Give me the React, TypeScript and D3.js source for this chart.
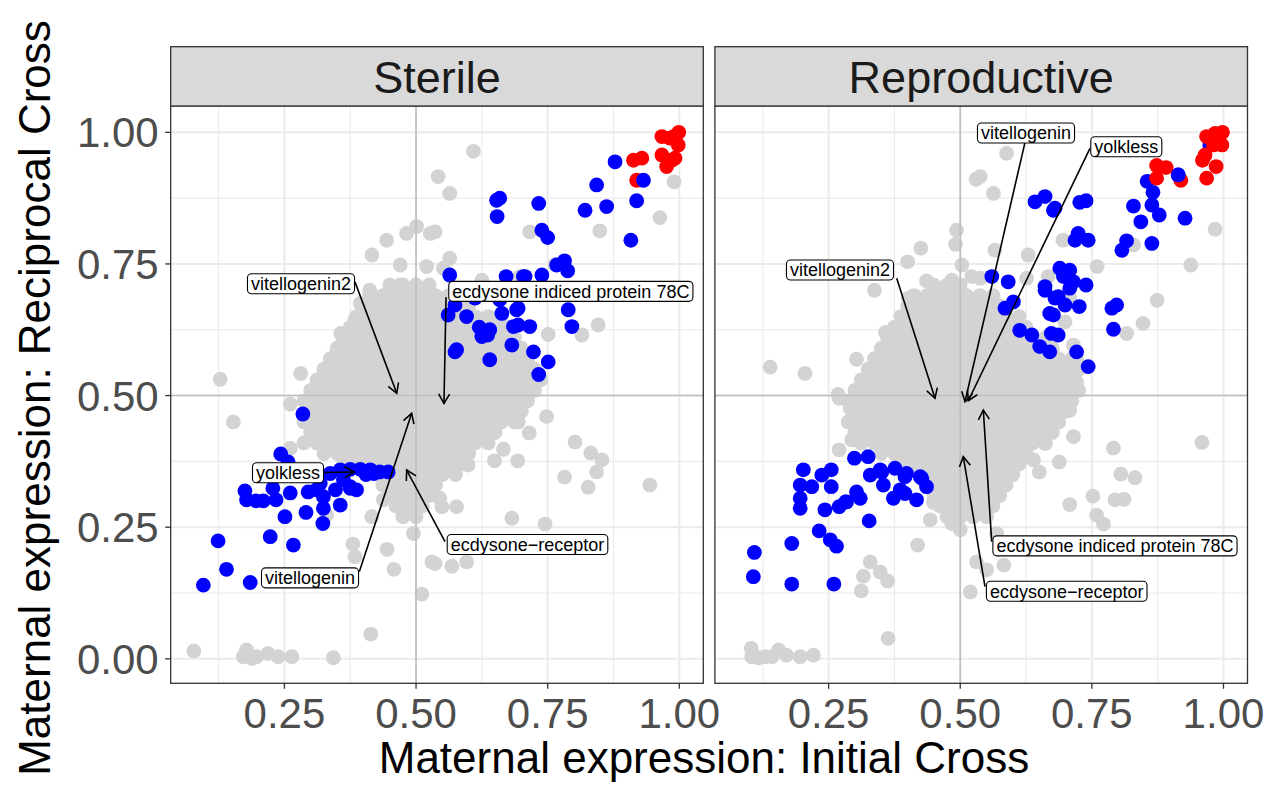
import * as d3 from "d3";

type Pt = [number, number];
type Row = [number, number[]];
type Lab = { text: string; at: Pt; from: Pt; tip: Pt };

// ---- Sterile panel ----
// dense central cloud, one row of points per y value
const sterileCloud: Row[] = [
  [0.71, [0.45, 0.475, 0.5, 0.525]],
  [0.69, [0.412, 0.437, 0.462, 0.487, 0.512, 0.537, 0.562]],
  [0.67, [0.4, 0.425, 0.45, 0.475, 0.5, 0.525, 0.55, 0.575, 0.6]],
  [0.65, [0.387, 0.412, 0.437, 0.462, 0.487, 0.512, 0.537, 0.562, 0.587, 0.612, 0.637, 0.662]],
  [0.63, [0.375, 0.4, 0.425, 0.45, 0.475, 0.5, 0.525, 0.55, 0.575, 0.6, 0.625, 0.65, 0.675]],
  [0.61, [0.362, 0.387, 0.412, 0.437, 0.462, 0.487, 0.512, 0.537, 0.562, 0.587, 0.612, 0.637, 0.662, 0.687]],
  [0.59, [0.35, 0.375, 0.4, 0.425, 0.45, 0.475, 0.5, 0.525, 0.55, 0.575, 0.6, 0.625, 0.65, 0.675, 0.7]],
  [0.57, [0.337, 0.362, 0.387, 0.412, 0.437, 0.462, 0.487, 0.512, 0.537, 0.562, 0.587, 0.612, 0.637, 0.662, 0.687, 0.712]],
  [0.55, [0.325, 0.35, 0.375, 0.4, 0.425, 0.45, 0.475, 0.5, 0.525, 0.55, 0.575, 0.6, 0.625, 0.65, 0.675, 0.7, 0.725]],
  [0.53, [0.312, 0.337, 0.362, 0.387, 0.412, 0.437, 0.462, 0.487, 0.512, 0.537, 0.562, 0.587, 0.612, 0.637, 0.662, 0.687, 0.712, 0.737]],
  [0.51, [0.3, 0.325, 0.35, 0.375, 0.4, 0.425, 0.45, 0.475, 0.5, 0.525, 0.55, 0.575, 0.6, 0.625, 0.65, 0.675, 0.7, 0.725]],
  [0.49, [0.287, 0.312, 0.337, 0.362, 0.387, 0.412, 0.437, 0.462, 0.487, 0.512, 0.537, 0.562, 0.587, 0.612, 0.637, 0.662, 0.687, 0.712]],
  [0.47, [0.3, 0.325, 0.35, 0.375, 0.4, 0.425, 0.45, 0.475, 0.5, 0.525, 0.55, 0.575, 0.6, 0.625, 0.65, 0.675, 0.7]],
  [0.45, [0.287, 0.312, 0.337, 0.362, 0.387, 0.412, 0.437, 0.462, 0.487, 0.512, 0.537, 0.562, 0.587, 0.612, 0.637, 0.662, 0.687]],
  [0.43, [0.3, 0.325, 0.35, 0.375, 0.4, 0.425, 0.45, 0.475, 0.5, 0.525, 0.55, 0.575, 0.6, 0.625, 0.65]],
  [0.41, [0.287, 0.312, 0.337, 0.362, 0.387, 0.412, 0.437, 0.462, 0.487, 0.512, 0.537, 0.562, 0.587, 0.612, 0.637]],
  [0.39, [0.325, 0.35, 0.375, 0.4, 0.425, 0.45, 0.475, 0.5, 0.525, 0.55, 0.575, 0.6]],
  [0.37, [0.362, 0.387, 0.412, 0.437, 0.462, 0.487, 0.512, 0.537, 0.562, 0.587]],
  [0.35, [0.45, 0.475, 0.5, 0.525, 0.55, 0.575]],
  [0.33, [0.437, 0.462, 0.487, 0.512, 0.537]],
  [0.31, [0.45, 0.475, 0.5, 0.525]],
  [0.29, [0.462, 0.487, 0.512]],
  [0.27, [0.475, 0.5]],
];

const sterileGrey: Pt[] = [
  [0.482, 0.808], [0.501, 0.821], [0.527, 0.808], [0.444, 0.795], [0.416, 0.767], [0.47, 0.748],
  [0.52, 0.745], [0.564, 0.761], [0.47, 0.71], [0.412, 0.7], [0.542, 0.916], [0.609, 0.964],
  [0.564, 0.884], [0.536, 0.811], [0.552, 0.742], [0.716, 0.811], [0.849, 0.813], [0.963, 0.838],
  [0.99, 0.906], [0.846, 0.634], [0.815, 0.615], [0.751, 0.616], [0.625, 0.719], [0.697, 0.726],
  [0.764, 0.749], [0.394, 0.675], [0.384, 0.644], [0.357, 0.618], [0.384, 0.609], [0.35, 0.585],
  [0.128, 0.531], [0.281, 0.542], [0.321, 0.506], [0.361, 0.548], [0.153, 0.45], [0.261, 0.484],
  [0.261, 0.4], [0.38, 0.218], [0.384, 0.194], [0.445, 0.208], [0.458, 0.17], [0.511, 0.123],
  [0.53, 0.184], [0.414, 0.047], [0.078, 0.015], [0.178, 0.017], [0.172, 0.004], [0.197, 0.004],
  [0.219, 0.01], [0.238, 0.004], [0.264, 0.004], [0.343, 0.002], [0.188, 0.001], [0.416, 0.27],
  [0.476, 0.289], [0.495, 0.238], [0.438, 0.302], [0.33, 0.273], [0.748, 0.46], [0.802, 0.412],
  [0.832, 0.391], [0.853, 0.378], [0.843, 0.355], [0.782, 0.345], [0.827, 0.326], [0.944, 0.33],
  [0.693, 0.376], [0.649, 0.376], [0.666, 0.398], [0.715, 0.429], [0.694, 0.45], [0.682, 0.267],
  [0.745, 0.256], [0.577, 0.289], [0.549, 0.289], [0.568, 0.176], [0.596, 0.184], [0.536, 0.181],
  [0.571, 0.355], [0.599, 0.368], [0.545, 0.305],
];

const sterileBlue: Pt[] = [
  [0.878, 0.944], [0.843, 0.9], [0.919, 0.87], [0.821, 0.852], [0.862, 0.859], [0.908, 0.795],
  [0.653, 0.871], [0.659, 0.875], [0.654, 0.84], [0.733, 0.865], [0.739, 0.814], [0.75, 0.8],
  [0.782, 0.756], [0.788, 0.737], [0.767, 0.748], [0.564, 0.729], [0.671, 0.726], [0.739, 0.729],
  [0.704, 0.726], [0.789, 0.663], [0.796, 0.631], [0.751, 0.564], [0.733, 0.54], [0.628, 0.621],
  [0.62, 0.63], [0.636, 0.615], [0.625, 0.612], [0.64, 0.625], [0.694, 0.666], [0.694, 0.634],
  [0.716, 0.631], [0.663, 0.656], [0.663, 0.697], [0.612, 0.685], [0.574, 0.672], [0.723, 0.583],
  [0.682, 0.596], [0.574, 0.583], [0.707, 0.726], [0.577, 0.587], [0.64, 0.568], [0.659, 0.682],
  [0.596, 0.65], [0.685, 0.631], [0.691, 0.663], [0.561, 0.653],
  [0.285, 0.465], [0.243, 0.389], [0.257, 0.374], [0.175, 0.319], [0.178, 0.302], [0.196, 0.3],
  [0.21, 0.3], [0.228, 0.324], [0.234, 0.302], [0.261, 0.315], [0.251, 0.27], [0.291, 0.278],
  [0.295, 0.317], [0.311, 0.321], [0.324, 0.308], [0.324, 0.286], [0.323, 0.257], [0.356, 0.292],
  [0.347, 0.321], [0.375, 0.324], [0.387, 0.321], [0.124, 0.224], [0.223, 0.232], [0.267, 0.216],
  [0.14, 0.17], [0.096, 0.14], [0.185, 0.145], [0.337, 0.352], [0.356, 0.359], [0.375, 0.36],
  [0.394, 0.36], [0.413, 0.359], [0.431, 0.355], [0.447, 0.355], [0.375, 0.327], [0.362, 0.34],
  [0.318, 0.333], [0.405, 0.35], [0.42, 0.352],
];

const sterileRed: Pt[] = [
  [0.967, 0.992], [0.982, 0.989], [0.999, 1.0], [0.998, 0.976], [0.989, 0.992], [0.967, 0.957],
  [0.986, 0.947], [0.976, 0.935], [0.992, 0.951], [0.913, 0.947], [0.929, 0.951], [0.919, 0.909],
];

// blue point that sits on top of a red one
const sterileBlueTop: Pt[] = [[0.932, 0.909]];

const sterileLabels: Lab[] = [
  { text: "vitellogenin2", at: [0.2815, 0.7124], from: [0.384, 0.716], tip: [0.4633, 0.5043] },
  { text: "ecdysone indiced protein 78C", at: [0.794, 0.698], from: [0.557, 0.687], tip: [0.553, 0.485] },
  { text: "yolkless", at: [0.2568, 0.3533], from: [0.3238, 0.3538], tip: [0.3827, 0.3548] },
  { text: "vitellogenin", at: [0.2986, 0.1538], from: [0.3922, 0.1654], tip: [0.4917, 0.4663] },
  { text: "ecdysone\u2212receptor", at: [0.7117, 0.2171], from: [0.555, 0.2224], tip: [0.4822, 0.3586] },
];

// ---- Reproductive panel ----
const reproCloud: Row[] = [
  [0.71, [0.45, 0.475, 0.5]],
  [0.69, [0.412, 0.437, 0.462, 0.487, 0.512, 0.537, 0.562]],
  [0.67, [0.4, 0.425, 0.45, 0.475, 0.5, 0.525, 0.55, 0.575]],
  [0.65, [0.387, 0.412, 0.437, 0.462, 0.487, 0.512, 0.537, 0.562, 0.587, 0.612]],
  [0.63, [0.375, 0.4, 0.425, 0.45, 0.475, 0.5, 0.525, 0.55, 0.575, 0.6, 0.625]],
  [0.61, [0.362, 0.387, 0.412, 0.437, 0.462, 0.487, 0.512, 0.537, 0.562, 0.587, 0.612, 0.637, 0.662]],
  [0.59, [0.35, 0.375, 0.4, 0.425, 0.45, 0.475, 0.5, 0.525, 0.55, 0.575, 0.6, 0.625, 0.65, 0.675]],
  [0.57, [0.337, 0.362, 0.387, 0.412, 0.437, 0.462, 0.487, 0.512, 0.537, 0.562, 0.587, 0.612, 0.637, 0.662, 0.687, 0.712]],
  [0.55, [0.325, 0.35, 0.375, 0.4, 0.425, 0.45, 0.475, 0.5, 0.525, 0.55, 0.575, 0.6, 0.625, 0.65, 0.675, 0.7, 0.725]],
  [0.53, [0.312, 0.337, 0.362, 0.387, 0.412, 0.437, 0.462, 0.487, 0.512, 0.537, 0.562, 0.587, 0.612, 0.637, 0.662, 0.687, 0.712]],
  [0.51, [0.3, 0.325, 0.35, 0.375, 0.4, 0.425, 0.45, 0.475, 0.5, 0.525, 0.55, 0.575, 0.6, 0.625, 0.65, 0.675, 0.7, 0.725]],
  [0.49, [0.287, 0.312, 0.337, 0.362, 0.387, 0.412, 0.437, 0.462, 0.487, 0.512, 0.537, 0.562, 0.587, 0.612, 0.637, 0.662, 0.687, 0.712]],
  [0.47, [0.3, 0.325, 0.35, 0.375, 0.4, 0.425, 0.45, 0.475, 0.5, 0.525, 0.55, 0.575, 0.6, 0.625, 0.65, 0.675, 0.7]],
  [0.45, [0.287, 0.312, 0.337, 0.362, 0.387, 0.412, 0.437, 0.462, 0.487, 0.512, 0.537, 0.562, 0.587, 0.612, 0.637, 0.662, 0.687]],
  [0.43, [0.3, 0.325, 0.35, 0.375, 0.4, 0.425, 0.45, 0.475, 0.5, 0.525, 0.55, 0.575, 0.6, 0.625, 0.65, 0.675]],
  [0.41, [0.312, 0.337, 0.362, 0.387, 0.412, 0.437, 0.462, 0.487, 0.512, 0.537, 0.562, 0.587, 0.612, 0.637, 0.662]],
  [0.39, [0.35, 0.375, 0.4, 0.425, 0.45, 0.475, 0.5, 0.525, 0.55, 0.575, 0.6, 0.625]],
  [0.37, [0.387, 0.412, 0.437, 0.462, 0.487, 0.512, 0.537, 0.562, 0.587, 0.612]],
  [0.35, [0.425, 0.45, 0.475, 0.5, 0.525, 0.55, 0.575, 0.6]],
  [0.33, [0.437, 0.462, 0.487, 0.512, 0.537, 0.562, 0.587]],
  [0.31, [0.45, 0.475, 0.5, 0.525, 0.55, 0.575]],
  [0.29, [0.462, 0.487, 0.512, 0.537, 0.562]],
  [0.27, [0.475, 0.5, 0.525, 0.55]],
];

const reproGrey: Pt[] = [
  [0.588, 0.96], [0.563, 0.884], [0.538, 0.916], [0.984, 0.816], [0.938, 0.748], [0.874, 0.681],
  [0.847, 0.637], [0.816, 0.618], [0.829, 0.786], [0.76, 0.745], [0.695, 0.795], [0.566, 0.776],
  [0.629, 0.767], [0.667, 0.726], [0.626, 0.723], [0.538, 0.723], [0.708, 0.685], [0.699, 0.64],
  [0.715, 0.596], [0.721, 0.571], [0.721, 0.526], [0.53, 0.911], [0.493, 0.814], [0.491, 0.787],
  [0.503, 0.748], [0.425, 0.78], [0.4, 0.754], [0.436, 0.718], [0.484, 0.719], [0.522, 0.726],
  [0.337, 0.7], [0.401, 0.685], [0.358, 0.62], [0.386, 0.602], [0.351, 0.583], [0.303, 0.569],
  [0.205, 0.542], [0.139, 0.554], [0.268, 0.502], [0.791, 0.4], [0.959, 0.411], [0.805, 0.351],
  [0.832, 0.344], [0.752, 0.309], [0.794, 0.302], [0.811, 0.303], [0.708, 0.293], [0.759, 0.273],
  [0.772, 0.256], [0.688, 0.374], [0.65, 0.355], [0.708, 0.472], [0.715, 0.422], [0.583, 0.178],
  [0.55, 0.169], [0.569, 0.238], [0.661, 0.409], [0.639, 0.378], [0.27, 0.495], [0.291, 0.476],
  [0.303, 0.454], [0.294, 0.416], [0.27, 0.397], [0.449, 0.297], [0.443, 0.264], [0.484, 0.257],
  [0.5, 0.245], [0.419, 0.216], [0.329, 0.184], [0.316, 0.157], [0.348, 0.165], [0.362, 0.148],
  [0.312, 0.129], [0.363, 0.039], [0.531, 0.184], [0.519, 0.127], [0.103, 0.02], [0.104, 0.004],
  [0.129, 0.004], [0.155, 0.017], [0.17, 0.007], [0.196, 0.004], [0.221, 0.007], [0.117, 0.002],
  [0.142, 0.004],
];

const reproBlue: Pt[] = [
  [0.974, 0.976], [0.914, 0.919], [0.855, 0.907], [0.866, 0.886], [0.829, 0.86], [0.864, 0.862],
  [0.878, 0.843], [0.843, 0.83], [0.927, 0.837], [0.816, 0.794], [0.807, 0.776], [0.864, 0.789],
  [0.642, 0.868], [0.661, 0.878], [0.68, 0.856], [0.677, 0.852], [0.727, 0.867], [0.739, 0.87],
  [0.724, 0.808], [0.718, 0.795], [0.743, 0.795], [0.689, 0.742], [0.708, 0.738], [0.696, 0.726],
  [0.56, 0.726], [0.591, 0.716], [0.661, 0.707], [0.708, 0.704], [0.739, 0.71], [0.68, 0.685],
  [0.699, 0.672], [0.726, 0.669], [0.585, 0.666], [0.601, 0.678], [0.677, 0.653], [0.673, 0.618],
  [0.686, 0.615], [0.613, 0.624], [0.636, 0.615], [0.651, 0.593], [0.67, 0.583], [0.721, 0.583],
  [0.743, 0.555], [0.788, 0.666], [0.797, 0.672], [0.791, 0.626], [0.715, 0.716], [0.661, 0.7],
  [0.686, 0.688], [0.67, 0.656],
  [0.202, 0.359], [0.196, 0.33], [0.196, 0.305], [0.196, 0.286], [0.218, 0.327], [0.237, 0.349],
  [0.255, 0.359], [0.255, 0.327], [0.243, 0.283], [0.27, 0.289], [0.282, 0.298], [0.232, 0.243],
  [0.253, 0.226], [0.265, 0.214], [0.18, 0.219], [0.109, 0.202], [0.107, 0.156], [0.18, 0.142],
  [0.26, 0.142], [0.299, 0.381], [0.325, 0.384], [0.303, 0.317], [0.31, 0.305], [0.327, 0.262],
  [0.329, 0.349], [0.351, 0.355], [0.354, 0.33], [0.376, 0.362], [0.373, 0.305], [0.395, 0.346],
  [0.395, 0.314], [0.417, 0.302], [0.427, 0.343], [0.436, 0.327], [0.398, 0.352], [0.424, 0.346],
  [0.386, 0.321], [0.284, 0.298], [0.348, 0.359],
];

const reproRed: Pt[] = [
  [0.968, 0.992], [0.984, 0.998], [0.998, 1.0], [0.997, 0.976], [0.981, 0.976], [0.965, 0.957],
  [0.96, 0.947], [0.986, 0.935], [0.968, 0.913], [0.873, 0.937], [0.891, 0.933], [0.873, 0.913],
  [0.919, 0.909],
];

const reproBlueTop: Pt[] = [[0.914, 0.919]];

const reproLabels: Lab[] = [
  { text: "vitellogenin2", at: [0.2716, 0.7385], from: [0.3793, 0.7227], tip: [0.452, 0.4948] },
  { text: "vitellogenin", at: [0.6249, 0.9987], from: [0.623, 0.981], tip: [0.509, 0.4883] },
  { text: "yolkless", at: [0.8154, 0.9726], from: [0.7464, 0.9696], tip: [0.5153, 0.4902] },
  { text: "ecdysone indiced protein 78C", at: [0.7939, 0.2146], from: [0.5597, 0.2224], tip: [0.5438, 0.4726] },
  { text: "ecdysone\u2212receptor", at: [0.7022, 0.1284], from: [0.547, 0.1369], tip: [0.5058, 0.3839] },
];

const panelNames = ["Sterile", "Reproductive"];
const xTicks = [0.25, 0.5, 0.75, 1.0];
const yTicks = [0, 0.25, 0.5, 0.75, 1.0];
const minorBreaks = [0.125, 0.375, 0.625, 0.875];

const FONT = "'Liberation Sans', Arial, Helvetica, sans-serif";
const X_DOMAIN = [0.034, 1.0456];
const Y_DOMAIN = [-0.0465, 1.05];
const PANEL_X: [number, number][] = [[170.7, 703.3], [714.9, 1247.5]];
const TOP = 106;
const BOTTOM = 683.3;
const STRIP_TOP = 46.7;
const R = 7.4;
const LABEL_SIZE = 18;

let ctx: CanvasRenderingContext2D | null = null;
function textWidth(s: string, size: number) {
  if (!ctx) ctx = document.createElement("canvas").getContext("2d");
  if (!ctx) return s.length * size * 0.5;
  ctx.font = `${size}px 'Liberation Sans', Arial, sans-serif`;
  return ctx.measureText(s).width;
}

type PanelProps = {
  idx: number;
  cloud: Row[];
  grey: Pt[];
  blue: Pt[];
  red: Pt[];
  blueTop: Pt[];
  labels: Lab[];
};

function Panel({ idx, cloud, grey, blue, red, blueTop, labels }: PanelProps) {
  const [x0, x1] = PANEL_X[idx];
  const x = d3.scaleLinear().domain(X_DOMAIN).range([x0, x1]);
  const y = d3.scaleLinear().domain(Y_DOMAIN).range([BOTTOM, TOP]);

  const greyPts: Pt[] = cloud.flatMap(([yy, xs]) => xs.map(xx => [xx, yy] as Pt)).concat(grey);
  const dots = (pts: Pt[], fill: string, key: string) =>
    pts.map((d, i) => <circle key={key + i} cx={x(d[0])} cy={y(d[1])} r={R} fill={fill} />);

  return (
    <g>
      <rect x={x0} y={TOP} width={x1 - x0} height={BOTTOM - TOP} fill="#fff" />
      {/* grid */}
      {minorBreaks.map(v => (
        <g key={"mn" + v}>
          <line x1={x(v)} x2={x(v)} y1={TOP} y2={BOTTOM} stroke="#EBEBEB" strokeWidth={1.1} />
          <line x1={x0} x2={x1} y1={y(v)} y2={y(v)} stroke="#EBEBEB" strokeWidth={1.1} />
        </g>
      ))}
      {xTicks.map(v => (
        <line key={"gx" + v} x1={x(v)} x2={x(v)} y1={TOP} y2={BOTTOM} stroke="#EBEBEB" strokeWidth={2} />
      ))}
      {yTicks.map(v => (
        <line key={"gy" + v} x1={x0} x2={x1} y1={y(v)} y2={y(v)} stroke="#EBEBEB" strokeWidth={2} />
      ))}
      {/* points */}
      {dots(greyPts, "#D3D3D3", "g")}
      {dots(blue, "#0000FF", "b")}
      {dots(red, "#FF0000", "r")}
      {dots(blueTop, "#0000FF", "bt")}
      {/* reference lines */}
      <line x1={x(0.5)} x2={x(0.5)} y1={TOP} y2={BOTTOM} stroke="#BEBEBE" strokeWidth={1.6} />
      <line x1={x0} x2={x1} y1={y(0.5)} y2={y(0.5)} stroke="#BEBEBE" strokeWidth={1.6} />
      {/* labels */}
      {labels.map(l => {
        const sx = x(l.from[0]), sy = y(l.from[1]);
        const tx = x(l.tip[0]), ty = y(l.tip[1]);
        const a = Math.atan2(ty - sy, tx - sx);
        const L = 11, sp = Math.PI / 6;
        const h1 = [tx - L * Math.cos(a - sp), ty - L * Math.sin(a - sp)];
        const h2 = [tx - L * Math.cos(a + sp), ty - L * Math.sin(a + sp)];
        const w = textWidth(l.text, LABEL_SIZE) + 7;
        const cx = x(l.at[0]), cy = y(l.at[1]);
        return (
          <g key={l.text}>
            <line x1={sx} y1={sy} x2={tx} y2={ty} stroke="#000" strokeWidth={1.6} />
            <path d={`M${h1[0]},${h1[1]}L${tx},${ty}L${h2[0]},${h2[1]}`} fill="none" stroke="#000" strokeWidth={1.6} />
            <rect x={cx - w / 2} y={cy - 10} width={w} height={20} rx={4} fill="#fff" stroke="#000" strokeWidth={1.1} />
            <text x={cx} y={cy} dy="0.36em" textAnchor="middle" fontSize={LABEL_SIZE} fontFamily={FONT} fill="#000">
              {l.text}
            </text>
          </g>
        );
      })}
      {/* border */}
      <rect x={x0} y={TOP} width={x1 - x0} height={BOTTOM - TOP} fill="none" stroke="#333" strokeWidth={1.3} />
      {/* strip */}
      <rect x={x0} y={STRIP_TOP} width={x1 - x0} height={TOP - STRIP_TOP} fill="#D9D9D9" stroke="#333" strokeWidth={1.3} />
      <text x={(x0 + x1) / 2} y={(STRIP_TOP + TOP) / 2} dy="0.36em" textAnchor="middle" fontSize={45} fontFamily={FONT} fill="#1A1A1A">
        {panelNames[idx]}
      </text>
      {/* x axis */}
      {xTicks.map(v => (
        <g key={"xt" + v}>
          <line x1={x(v)} x2={x(v)} y1={BOTTOM} y2={BOTTOM + 5.5} stroke="#333" strokeWidth={1.3} />
          <text x={x(v)} y={728} textAnchor="middle" fontSize={42} fontFamily={FONT} fill="#4D4D4D">
            {d3.format(".2f")(v)}
          </text>
        </g>
      ))}
      {/* y axis on first panel only */}
      {idx === 0 &&
        yTicks.map(v => (
          <g key={"yt" + v}>
            <line x1={x0 - 5.5} x2={x0} y1={y(v)} y2={y(v)} stroke="#333" strokeWidth={1.3} />
            <text x={x0 - 12} y={y(v)} dy="0.36em" textAnchor="end" fontSize={42} fontFamily={FONT} fill="#4D4D4D">
              {d3.format(".2f")(v)}
            </text>
          </g>
        ))}
    </g>
  );
}

export default function App() {
  return (
    <svg
      width={1273}
      height={785}
      style={{ position: "absolute", left: 0, top: 0, background: "#fff" }}
    >
      <rect width={1273} height={785} fill="#fff" />
      <Panel idx={0} cloud={sterileCloud} grey={sterileGrey} blue={sterileBlue} red={sterileRed} blueTop={sterileBlueTop} labels={sterileLabels} />
      <Panel idx={1} cloud={reproCloud} grey={reproGrey} blue={reproBlue} red={reproRed} blueTop={reproBlueTop} labels={reproLabels} />
      <text x={704} y={773} textAnchor="middle" fontSize={44} fontFamily={FONT} fill="#000">
        Maternal expression: Initial Cross
      </text>
      <text transform="translate(50,398) rotate(-90)" textAnchor="middle" fontSize={44} fontFamily={FONT} fill="#000">
        Maternal expression: Reciprocal Cross
      </text>
    </svg>
  );
}
